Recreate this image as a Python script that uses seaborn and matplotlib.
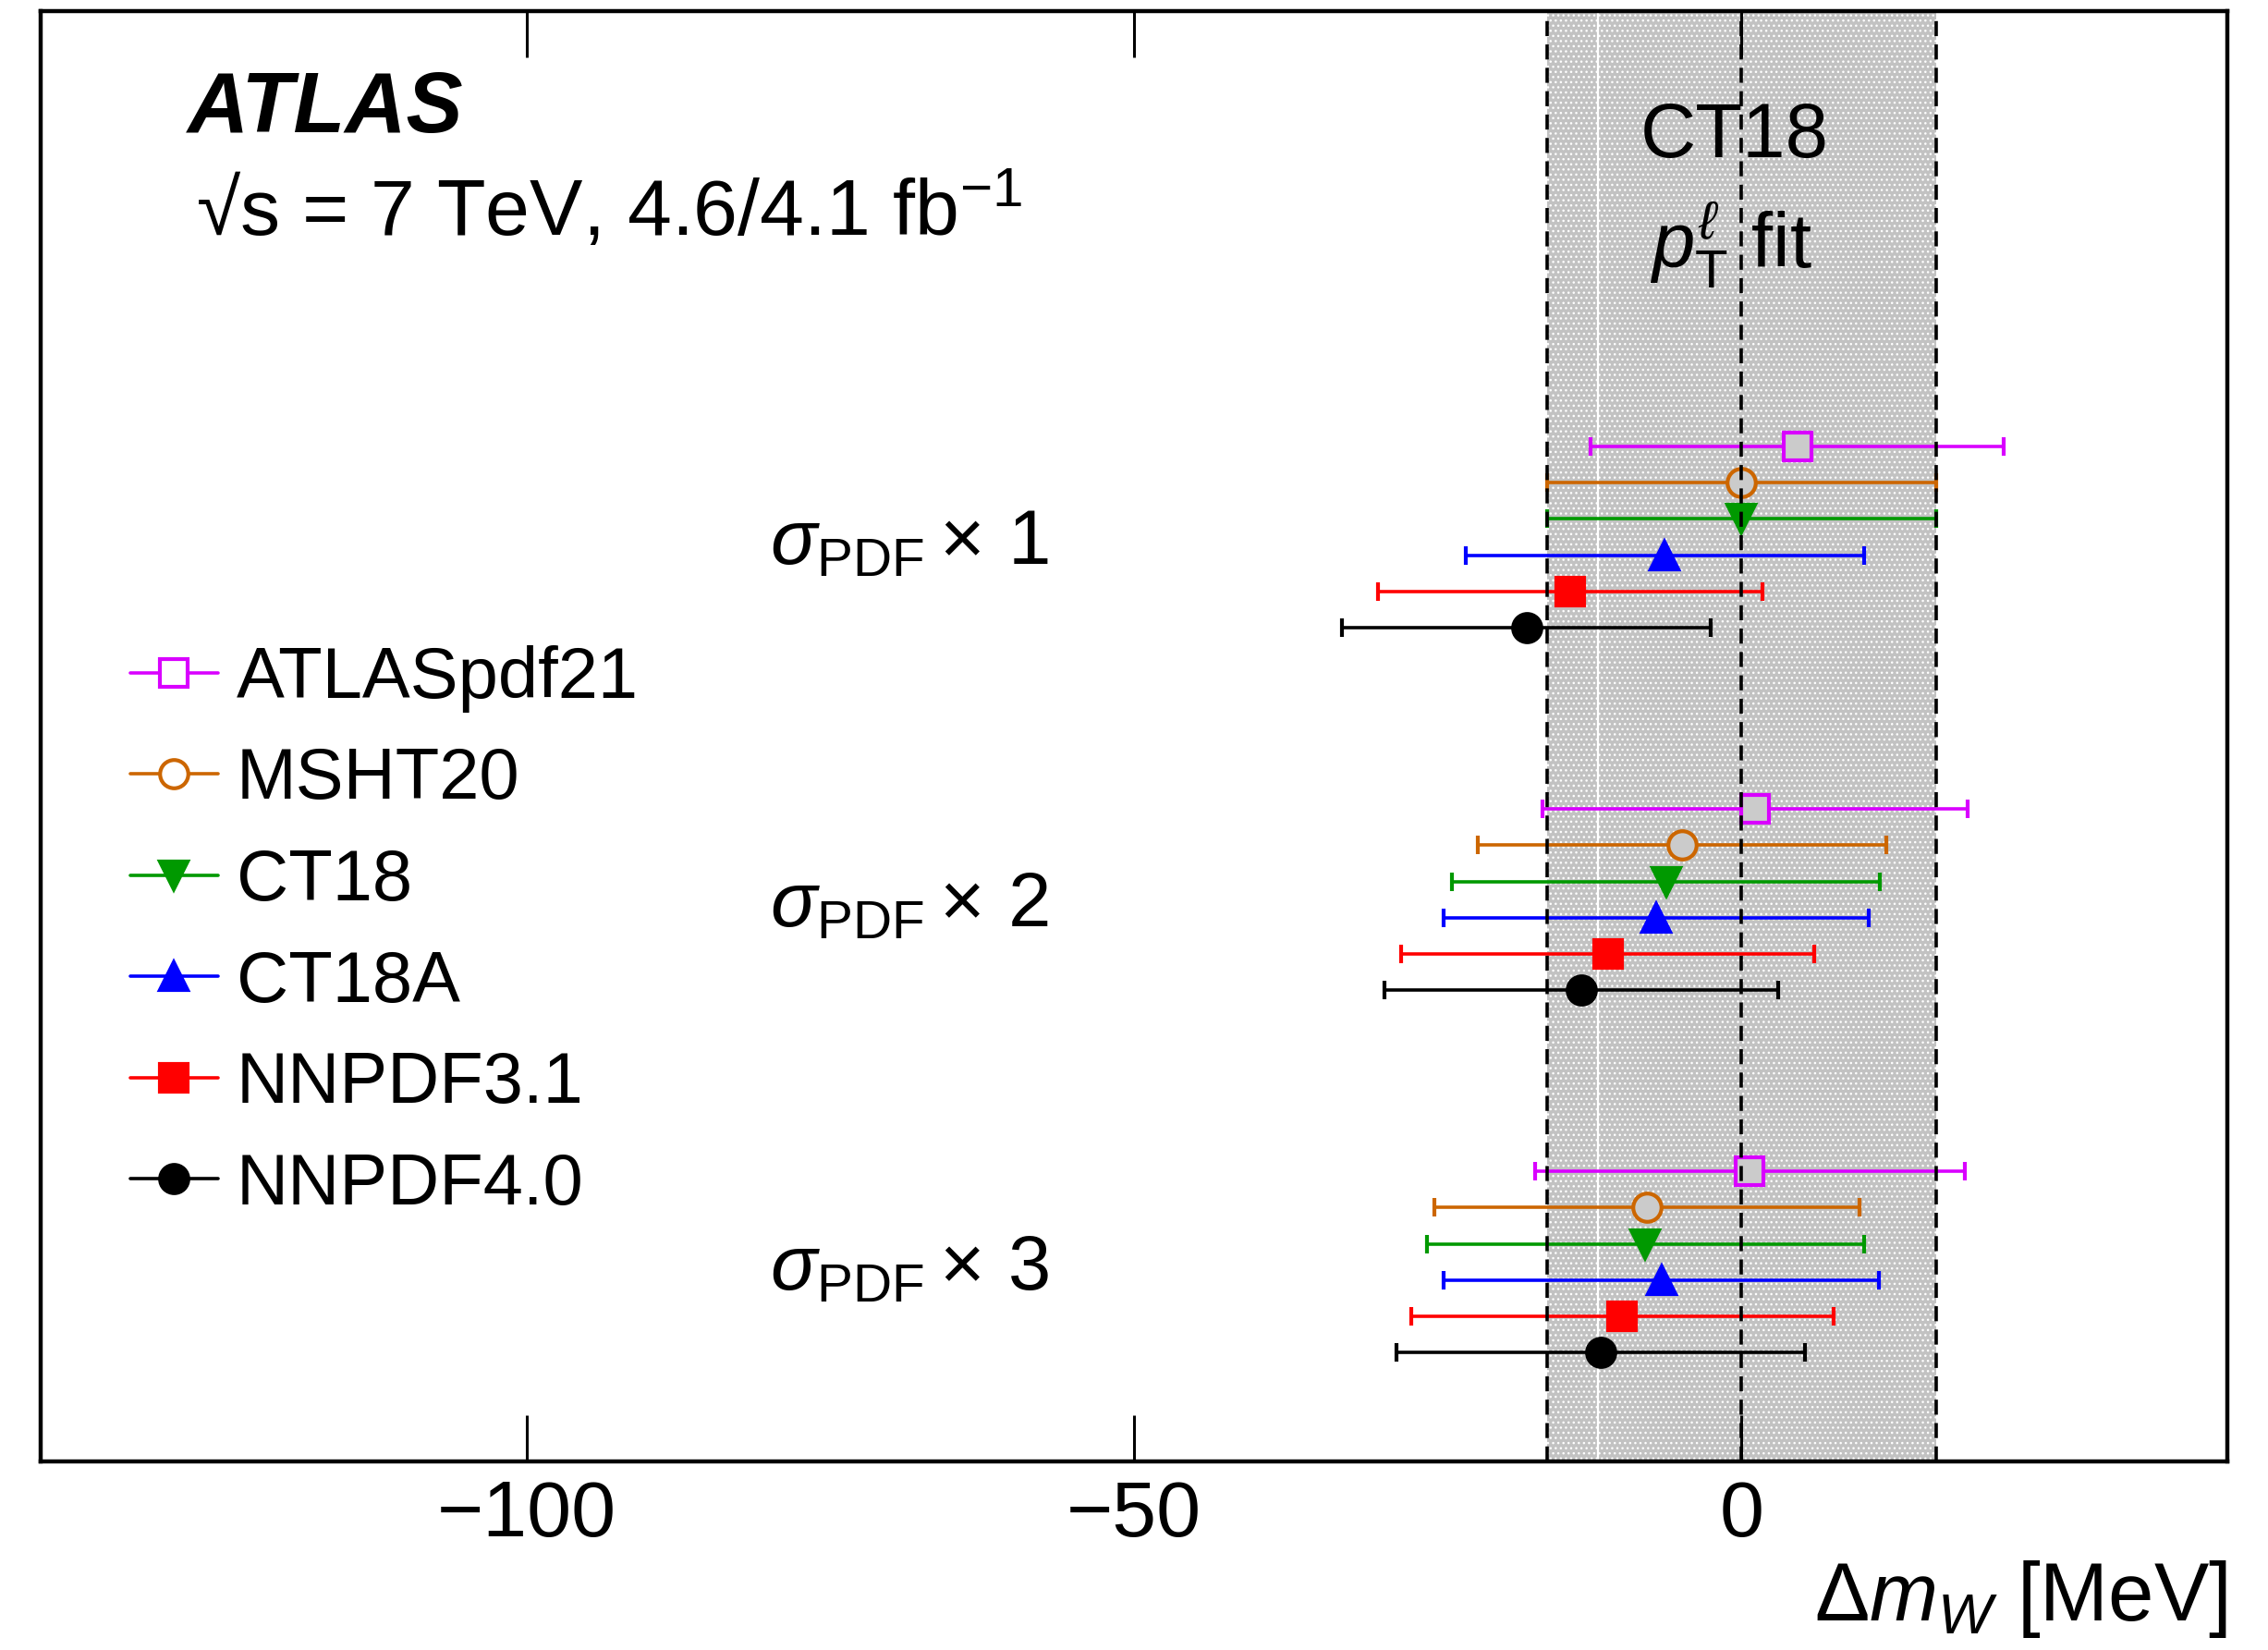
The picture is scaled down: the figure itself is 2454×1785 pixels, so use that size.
import matplotlib
matplotlib.use("Agg")
import matplotlib.pyplot as plt
from matplotlib.lines import Line2D
import pandas as pd
import seaborn as sns

pdf_sets = ["ATLASpdf21", "MSHT20", "CT18", "CT18A", "NNPDF3.1", "NNPDF4.0"]
scales = ["1", "2", "3"]

# central m_W shifts w.r.t. CT18 [MeV], one list per sigma_PDF scaling
shift_x1 = [4.6, 0.0, 0.0, -6.3, -14.1, -17.7]
shift_x2 = [1.1, -4.9, -6.2, -7.0, -11.0, -13.2]
shift_x3 = [0.7, -7.8, -7.9, -6.6, -9.8, -11.6]

# symmetric uncertainties [MeV]
err_x1 = [17.0, 16.0, 16.0, 16.4, 15.8, 15.2]
err_x2 = [17.5, 16.8, 17.6, 17.5, 17.0, 16.2]
err_x3 = [17.7, 17.5, 18.0, 17.9, 17.4, 16.8]

ct18_unc = 16.0

colors = ["#d900ff", "#cc6600", "#009900", "#0000ff", "#ff0000", "#000000"]
markers = ["s", "o", "v", "^", "s", "o"]
filled = [False, False, True, True, True, True]

sns.set_theme(style="ticks")
plt.rcParams["font.family"] = ["Liberation Sans", "DejaVu Sans"]
plt.rcParams["mathtext.fontset"] = "custom"
plt.rcParams["mathtext.rm"] = "Liberation Sans"
plt.rcParams["mathtext.it"] = "Liberation Sans:italic"
plt.rcParams["mathtext.bf"] = "Liberation Sans:bold"
plt.rcParams["axes.unicode_minus"] = True
plt.rcParams["hatch.linewidth"] = 1.0
for key in ("text.color", "axes.labelcolor", "xtick.color", "ytick.color", "axes.edgecolor"):
    plt.rcParams[key] = "black"

rows = []
for g, (shifts, errs) in enumerate([(shift_x1, err_x1), (shift_x2, err_x2), (shift_x3, err_x3)]):
    for i, name in enumerate(pdf_sets):
        rows.append({"pdf": name, "scale": scales[g], "shift": shifts[i],
                     "err": errs[i], "row": 12 + 10 * g + i})
df = pd.DataFrame(rows)

fig = plt.figure(figsize=(24.54, 17.85), dpi=100)
ax = fig.add_axes([0.0179, 0.1143, 0.9642, 0.8787])

band_grey = "#c2c2c2"
ax.axvspan(-ct18_unc, ct18_unc, facecolor=band_grey, edgecolor="white",
           hatch="...", linewidth=0, zorder=0)
ax.axvline(-11.8, color="white", lw=1.6, zorder=1)

for i, name in enumerate(pdf_sets):
    sub = df[df["pdf"] == name]
    ax.errorbar(sub["shift"], sub["row"], xerr=sub["err"], fmt=markers[i],
                color=colors[i], mec=colors[i],
                mfc=colors[i] if filled[i] else "#cbcbcb",
                mew=3.0, ms=22, elinewidth=2.6, capsize=7.5, capthick=2.6,
                zorder=3)

for xv in (-ct18_unc, 0, ct18_unc):
    ax.axvline(xv, color="black", lw=2.6, dashes=(4.5, 2.5), zorder=5)

ax.set_xlim(-140, 40)
ax.set_ylim(40, 0)
ax.set_xticks([-100, -50, 0])
ax.tick_params(axis="x", direction="in", top=True, bottom=True, length=36,
               width=2.2, labelsize=62, pad=14, colors="black")
ax.tick_params(axis="y", left=False, labelleft=False)
for s in ax.spines.values():
    s.set_linewidth(3.2)
    s.set_color("black")

ax.set_xlabel(r"$\Delta\mathit{m}_{\mathit{W}}$ [MeV]", fontsize=64, loc="right")
ax.xaxis.set_label_coords(1.0, -0.1097)
ax.xaxis.label.set_verticalalignment("baseline")

ax.text(0.0672, 0.9168, "ATLAS", transform=ax.transAxes, fontsize=66,
        fontweight="bold", fontstyle="italic", va="baseline")
ax.text(0.0710, 0.8454, "\u221As = 7 TeV, 4.6/4.1 fb$^{-1}$",
        transform=ax.transAxes, fontsize=62, va="baseline")

ax.text(-0.6, 4.02, "CT18", fontsize=60, ha="center", va="baseline", zorder=6)
ax.text(-0.9, 7.08, r"$p_{\mathrm{T}}^{\ell}$ fit", fontsize=60, ha="center",
        va="baseline", zorder=6)

for g, sc in enumerate(scales):
    ax.text(-80.0, 15.24 + 10 * g, r"$\sigma_{\mathrm{PDF}}\times\,$" + sc,
            fontsize=60, va="baseline")

handles = [Line2D([], [], color=colors[i], marker=markers[i], mec=colors[i],
                  mfc=colors[i] if filled[i] else "white", mew=3.0, ms=22, lw=2.6)
           for i in range(len(pdf_sets))]
ax.legend(handles, pdf_sets, loc="upper left", bbox_to_anchor=(0.041, 0.563),
          frameon=False, fontsize=56, handlelength=1.22, handletextpad=0.26,
          labelspacing=0.47, borderpad=0, borderaxespad=0)

fig.savefig("out.png", dpi=100)
